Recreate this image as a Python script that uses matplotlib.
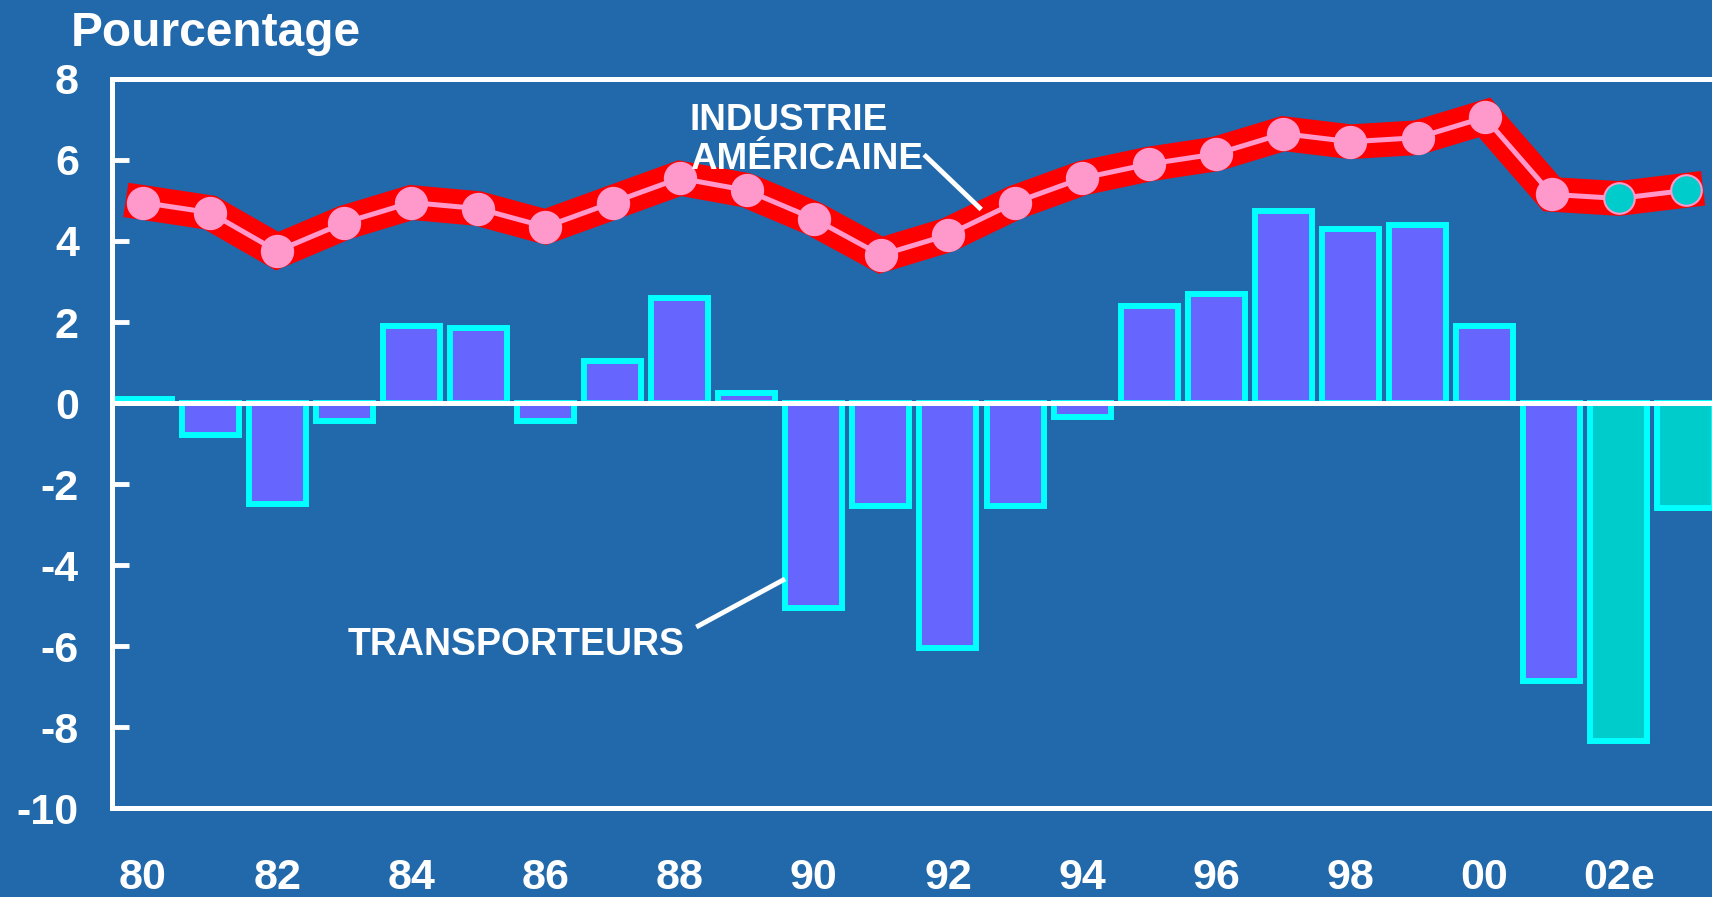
import numpy as np
import matplotlib
matplotlib.use("Agg")
import matplotlib.pyplot as plt

# ── Données ─────────────────────────────────────────────────────────────────────
YEARS = list(range(1980, 2004))
TRANSPORTEURS = [0.1, -0.8, -2.5, -0.45, 1.9, 1.85, -0.45, 1.05, 2.6, 0.25,
                 -5.05, -2.55, -6.05, -2.55, -0.35, 2.4, 2.7, 4.75, 4.3, 4.4,
                 1.9, -6.85, -8.35, -2.6]
INDUSTRIE = [4.95, 4.7, 3.75, 4.45, 4.95, 4.8, 4.35, 4.95, 5.55, 5.25,
             4.55, 3.65, 4.15, 4.95, 5.55, 5.9, 6.15, 6.65, 6.45, 6.55,
             7.05, 5.15, 5.05, 5.25]
ESTIME = [y >= 2002 for y in YEARS]  # 2002e, 2003e
XTICKS = list(range(1980, 2003, 2))
XLABELS = ["80", "82", "84", "86", "88", "90", "92", "94", "96", "98", "00", "02e"]
YTICKS = list(range(-10, 9, 2))

BG = "#2169AB"
WHITE = "white"
plt.rcParams["font.family"] = ["Liberation Sans", "DejaVu Sans"]
plt.rcParams["font.weight"] = "bold"

fig = plt.figure(figsize=(17.12, 8.97), dpi=100, facecolor=BG)
ax = fig.add_axes([0.0655, 0.099, 0.9345, 0.813])
ax.set_facecolor(BG)

# barres transporteurs
bar_colors = ["#00CCCC" if e else "#6666FF" for e in ESTIME]
ax.bar(YEARS, TRANSPORTEURS, width=0.85, color=bar_colors,
       edgecolor="#00FFFF", linewidth=4.3, zorder=2)
ax.axhline(0, color=WHITE, lw=3.6, zorder=3)

# courbe industrie américaine
ax.plot(YEARS, INDUSTRIE, color="#FF0000", lw=25, solid_capstyle="projecting",
        solid_joinstyle="miter", zorder=4)
ax.plot(YEARS, INDUSTRIE, color="#FF99CC", lw=3.6, zorder=5)
yrs = np.array(YEARS)
ind = np.array(INDUSTRIE)
est = np.array(ESTIME)
ax.plot(yrs[~est], ind[~est], "o", ms=23, color="#FF99CC", mec="#FF99CC", zorder=6)
ax.plot(yrs[est], ind[est], "o", ms=22, color="#00CCCC", mec="#FF99CC", mew=1.5, zorder=6)

# annotations
ax.text(1988.15, 6.5, "INDUSTRIE\nAMÉRICAINE", color=WHITE, fontsize=26.5,
        ha="left", va="center", linespacing=1.15, zorder=7)
ax.plot([1991.67, 1992.47], [6.09, 4.82], color=WHITE, lw=3.5, zorder=7)
ax.text(1983.05, -5.96, "TRANSPORTEURS", color=WHITE, fontsize=27,
        ha="left", va="center", zorder=7)
ax.plot([1988.28, 1989.54], [-5.5, -4.37], color=WHITE, lw=3.5, zorder=7)

ax.set_xlim(1979.54, 2003.39)
ax.set_ylim(-10, 8)
ax.set_yticks(YTICKS)
ax.set_yticklabels([str(v) for v in YTICKS])
ax.set_xticks(XTICKS)
ax.set_xticklabels(XLABELS)
ax.tick_params(axis="y", direction="in", length=12, width=3.5, color=WHITE,
               labelcolor=WHITE, labelsize=31, pad=24)
ax.tick_params(axis="x", length=0, labelcolor=WHITE, labelsize=31, pad=36)

for side in ["left", "top", "bottom"]:
    ax.spines[side].set_color(WHITE)
    ax.spines[side].set_linewidth(3.6)
ax.spines["right"].set_visible(False)

fig.text(71 / 1712, 1 - 46 / 897, "Pourcentage", color=WHITE, fontsize=34.5,
         ha="left", va="baseline")

fig.savefig("out.png", dpi=100, facecolor=BG)
